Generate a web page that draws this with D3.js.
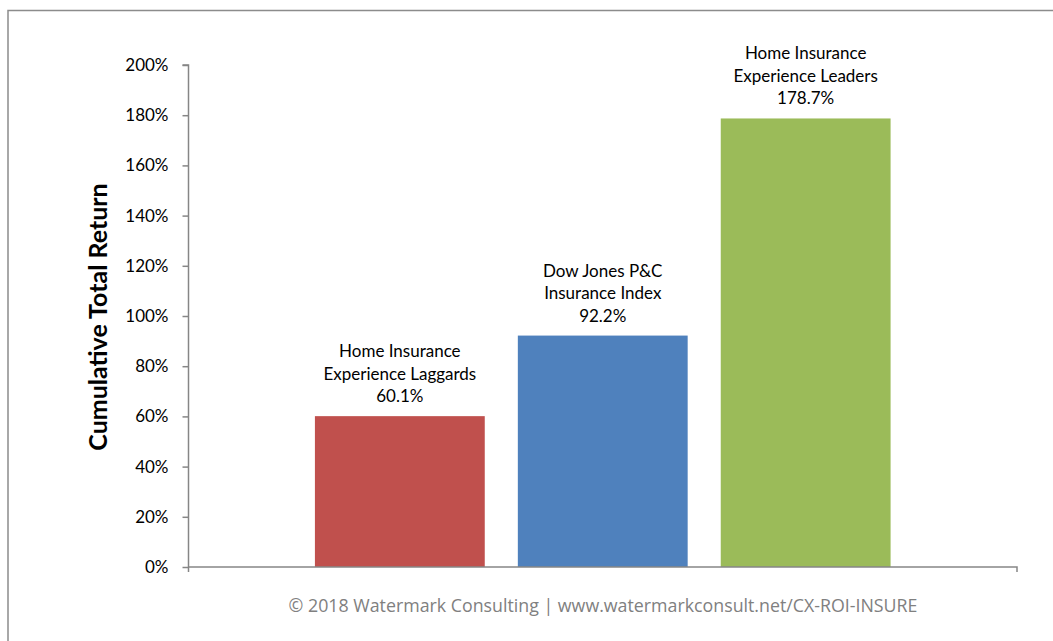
<!DOCTYPE html>
<html>
<head>
<meta charset="utf-8">
<script src="https://cdn.jsdelivr.net/npm/d3@7"></script>
<style>
  html, body { margin: 0; padding: 0; background: #fff; }
  svg { display: block; }
</style>
</head>
<body>
<svg id="chart" width="1053" height="641"></svg>
<script>
const categories = ["Laggards", "DowJones", "Leaders"];
const labelLines = [
  ["Home Insurance", "Experience Laggards"],
  ["Dow Jones P&C", "Insurance Index"],
  ["Home Insurance", "Experience Leaders"]
];
const values = [60.1, 92.2, 178.7];
const colors = ["#C0504D", "#4F81BD", "#9BBB59"];
const yTicks = [0, 20, 40, 60, 80, 100, 120, 140, 160, 180, 200];
const yTitle = "Cumulative Total Return";
const footer = "© 2018 Watermark Consulting | www.watermarkconsult.net/CX-ROI-INSURE";

const svg = d3.select("#chart");
const font = "Lato, 'Open Sans', sans-serif";

// outer frame (only top and left visible)
svg.append("rect")
  .attr("x", 8).attr("y", 10.5)
  .attr("width", 1200).attr("height", 800)
  .attr("fill", "none").attr("stroke", "#8c8c8c").attr("stroke-width", 1.5);

const x0 = 188.5, x1 = 1017, yTop = 65, yBase = 567;

const x = d3.scaleBand().domain(categories).range([x0, x1])
  .paddingInner(0.163).paddingOuter(0.623);
const y = d3.scaleLinear().domain([0, 200]).range([yBase, yTop]);

// bars
svg.selectAll("rect.bar").data(values).enter().append("rect")
  .attr("class", "bar")
  .attr("x", (d, i) => x(categories[i]))
  .attr("y", d => y(d))
  .attr("width", x.bandwidth())
  .attr("height", d => y(0) - y(d))
  .attr("fill", (d, i) => colors[i]);

// y axis
const yAxis = d3.axisLeft(y).tickValues(yTicks).tickFormat(d => d + "%")
  .tickSize(6).tickPadding(14);
const gy = svg.append("g").attr("transform", `translate(${x0},0)`).call(yAxis);
gy.select(".domain").attr("stroke", "#868686").attr("stroke-width", 1.5)
  .attr("d", `M-6,${yTop}H0V${yBase + 5}`);
gy.selectAll(".tick line").attr("stroke", "#868686").attr("stroke-width", 1.5);
gy.selectAll(".tick text").attr("fill", "#000")
  .style("font-family", font).style("font-size", "17px");

// x axis baseline
const xAxis = d3.axisBottom(x).tickValues([]).tickSizeOuter(5);
const gx = svg.append("g").attr("transform", `translate(0,${yBase})`).call(xAxis);
gx.select(".domain").attr("stroke", "#868686").attr("stroke-width", 1.5)
  .attr("d", `M${x0},0H${x1}V5`);

// bar labels
values.forEach((v, i) => {
  const cx = x(categories[i]) + x.bandwidth() / 2;
  const top = y(v);
  const lines = labelLines[i].concat([v.toFixed(1) + "%"]);
  lines.forEach((t, j) => {
    svg.append("text")
      .attr("x", cx)
      .attr("y", top - 14 - (lines.length - 1 - j) * 22.5)
      .attr("text-anchor", "middle")
      .style("font-family", font).style("font-size", "17px")
      .attr("fill", "#000")
      .text(t);
  });
});

// y title
svg.append("text")
  .attr("transform", `translate(107,317) rotate(-90)`)
  .attr("text-anchor", "middle")
  .style("font-family", font).style("font-size", "25px").style("font-weight", "bold")
  .attr("fill", "#000")
  .text(yTitle);

// footer
svg.append("text")
  .attr("x", 603).attr("y", 612)
  .attr("text-anchor", "middle")
  .style("font-family", "'Open Sans', sans-serif").style("font-size", "17.8px")
  .attr("fill", "#808080")
  .text(footer);
</script>
</body>
</html>
